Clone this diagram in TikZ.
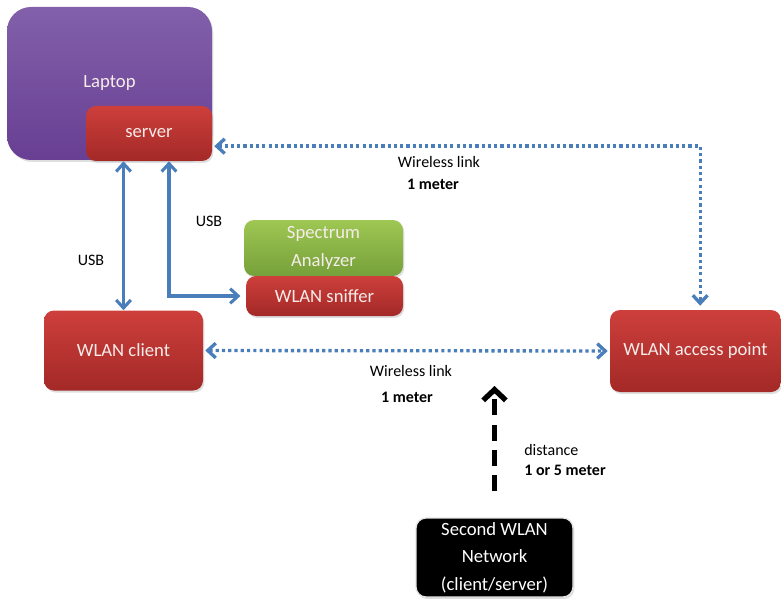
\documentclass[tikz,border=0pt]{standalone}
\usepackage{fontspec}
\setmainfont{Carlito}
\usetikzlibrary{arrows.meta,shadows}

\definecolor{linkblue}{HTML}{4A7EBB}
\definecolor{redtop}{HTML}{CD3F3B}
\definecolor{redbot}{HTML}{A32927}
\definecolor{purtop}{HTML}{8260AA}
\definecolor{purbot}{HTML}{683F93}
\definecolor{grntop}{HTML}{9EC753}
\definecolor{grnbot}{HTML}{76A03A}
\definecolor{boxtext}{HTML}{F6ECEA}

\begin{document}
\begin{tikzpicture}[x=0.75pt, y=-0.75pt,
    box/.style={inner sep=0pt, align=center, text=boxtext,
        font=\fontsize{14}{20.5}\selectfont, rounded corners=7.5pt,
        drop shadow={opacity=0.25, shadow xshift=1pt, shadow yshift=-1.5pt}},
    redbox/.style={box, top color=redtop, bottom color=redbot},
    lbl/.style={inner sep=0pt, font=\fontsize{12}{14}\selectfont},
    usb/.style={draw=linkblue, line width=2.3pt,
        {Straight Barb[length=6pt,width=11pt]}-{Straight Barb[length=6pt,width=11pt]}},
    wifi/.style={draw=linkblue, line width=2.5pt, dash pattern=on 2.4pt off 2.3pt,
        {Straight Barb[length=6pt,width=11pt]}-{Straight Barb[length=6pt,width=11pt]}},
    far/.style={line width=4pt, dash pattern=on 12pt off 7pt,
        -{Straight Barb[length=8pt,width=17pt]}}]

    % Рамка рисунка
    \useasboundingbox (0,0) rectangle (781,599);

    % Ноутбук и сервер на нём
    \node[box, top color=purtop, bottom color=purbot, rounded corners=18pt,
        minimum width=153.75pt, minimum height=114.75pt] (laptop) at (109.5,83.5) {\raisebox{-2pt}{Laptop}};
    \node[redbox, minimum width=94.5pt, minimum height=41.25pt] (server) at (149,133.5) {server};

    % Анализатор спектра и сниффер
    \node[box, top color=grntop, bottom color=grnbot,
        minimum width=119.25pt, minimum height=42pt] (spectrum) at (323.5,248) {Spectrum\\Analyzer};
    \node[redbox, minimum width=117.75pt, minimum height=30pt] (sniffer) at (324.5,296) {WLAN sniffer};

    % Клиент и точка доступа
    \node[redbox, minimum width=119.25pt, minimum height=60pt] (client) at (123.5,350.5) {WLAN client};
    \node[redbox, minimum width=128.25pt, minimum height=61.5pt] (ap) at (695.5,351) {WLAN access point};

    % Вторая сеть
    \node[box, fill=black, draw=white!80!gray, line width=1pt, text=white,
        minimum width=117.75pt, minimum height=59.25pt] (second) at (494.5,557.5) {Second WLAN\\Network\\(client/server)};

    % USB соединения
    \draw[usb] (client.north) -- (client.north |- server.south);
    \draw[usb] ([xshift=15pt]server.south) |- ([xshift=-4pt]sniffer.west);
    \node[lbl] (usbA) at (91,260) {USB};
    \node[lbl] (usbB) at (209,221) {USB};

    % Беспроводные каналы
    \draw[wifi, shorten <=1.5pt, shorten >=3pt] ([yshift=-9.5pt]server.east) -| ([xshift=3.5pt]ap.north);
    \draw[wifi, shorten <=1.5pt, shorten >=1.5pt] (client.east) -- (ap.west);
    \node[lbl] (wlA) at (439,162) {Wireless link};
    \node[lbl, font=\fontsize{12}{14}\bfseries] (wlAm) at (433,184) {1 meter};
    \node[lbl] (wlB) at (411,371) {Wireless link};
    \node[lbl, font=\fontsize{12}{14}\bfseries] (wlBm) at (407,397) {1 meter};

    % Расстояние до второй сети
    \coordinate (tip) at (494.5,386);
    \draw[far] ([yshift=19.5pt]second.north) -- (tip);
    \node[lbl, anchor=west] (dist) at (524,450) {distance};
    \node[lbl, anchor=west, font=\fontsize{12}{14}\bfseries] (distm) at (524,470) {1 or 5 meter};
\end{tikzpicture}
\end{document}
